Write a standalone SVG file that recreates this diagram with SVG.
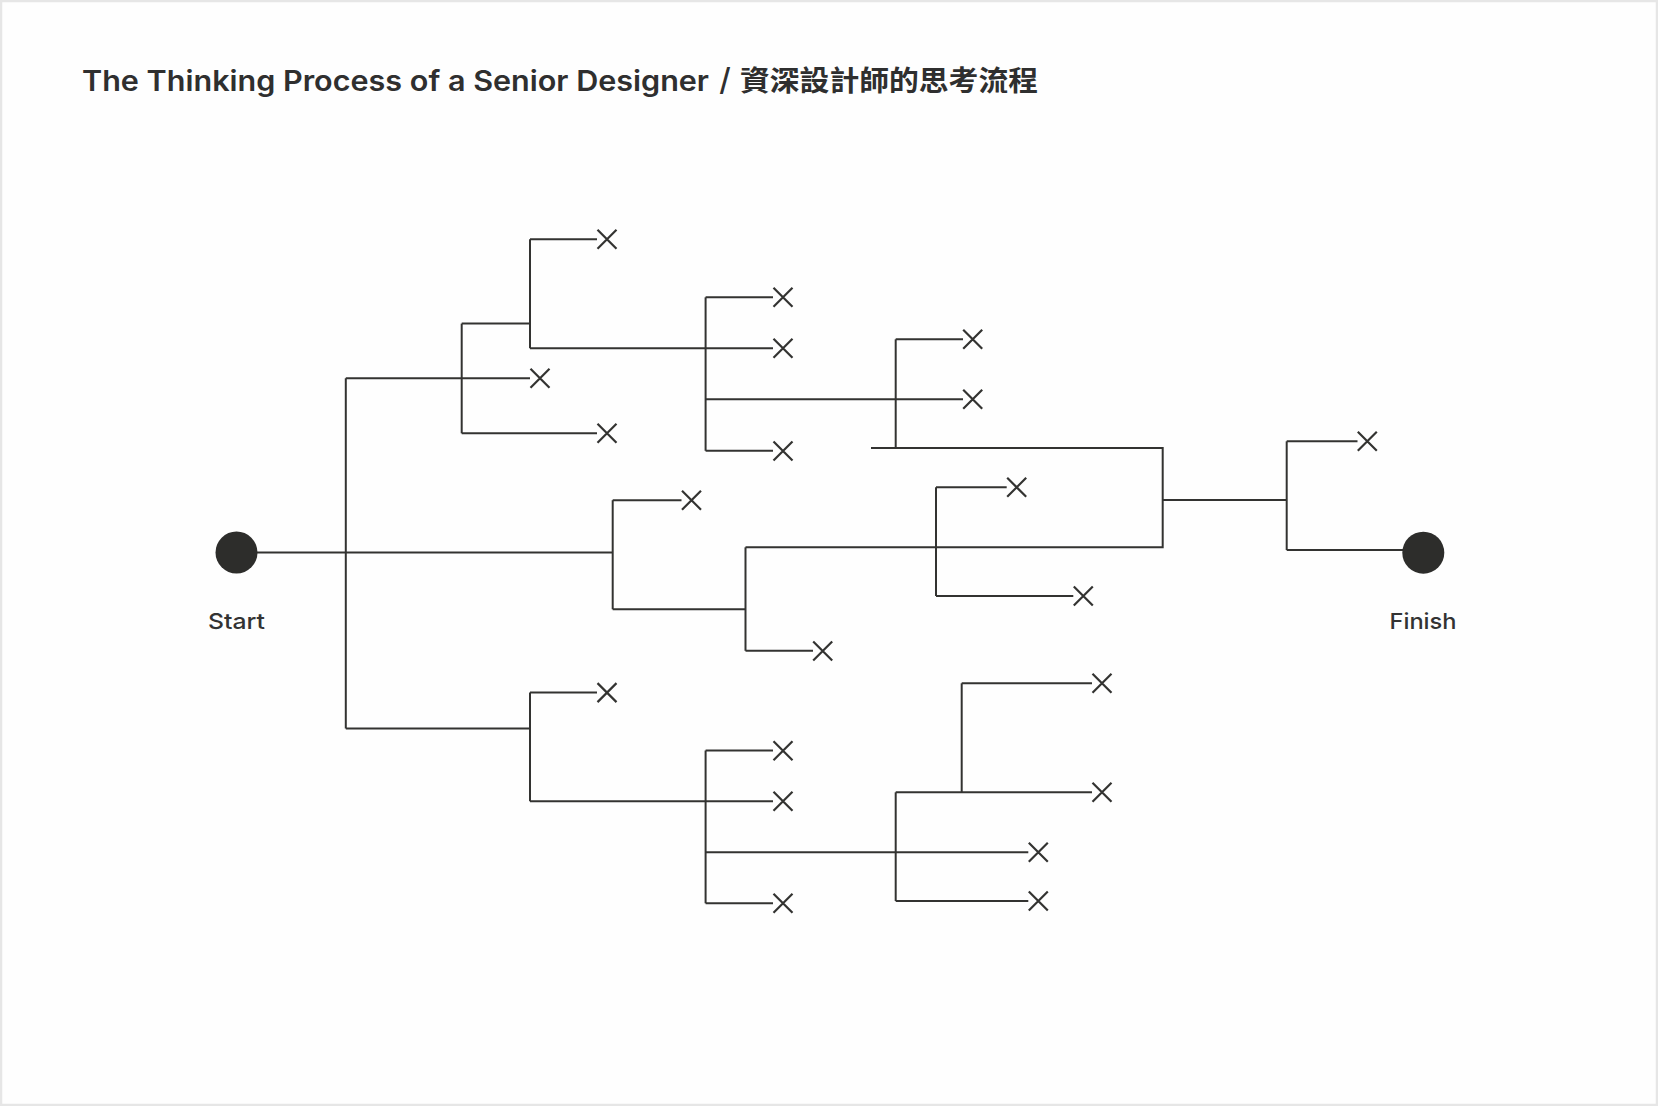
<svg xmlns="http://www.w3.org/2000/svg" xmlns:xlink="http://www.w3.org/1999/xlink" width="1658" height="1106" viewBox="0 0 1658 1106">
<style>
.ln{stroke:#333331;stroke-width:2;fill:none;stroke-linecap:butt}
.xm{stroke:#333331;stroke-width:2.2;fill:none}
.dot{fill:#2d2d2b}
.title{font-family:"Inter","Noto Sans CJK TC",sans-serif;font-weight:600;font-size:28px;fill:#2f2f2f}
.lbl{font-family:"Inter","Noto Sans",sans-serif;font-weight:500;font-size:22px;fill:#333333}
</style>
<defs>
<g id="xmark"><path class="xm" d="M-9.5,-9.5 L9.5,9.5 M-9.5,9.5 L9.5,-9.5"/></g>
</defs>
<rect x="1" y="1" width="1656" height="1104" fill="#fefefe" stroke="#e6e6e6" stroke-width="2.5"/>
<text class="title" y="90.5"><tspan x="82" textLength="627" lengthAdjust="spacingAndGlyphs">The Thinking Process of a Senior Designer</tspan><tspan x="711" font-size="31" font-weight="500"> / </tspan><tspan x="740" textLength="298" lengthAdjust="spacingAndGlyphs">資深設計師的思考流程</tspan></text>
<g id="connectors">
<path class="ln" d="M236.5,552.5 H612.7"/>
<path class="ln" d="M345.8,378.3 V728.5"/>
<path class="ln" d="M345.8,378.3 H530"/>
<path class="ln" d="M461.7,323.6 V433.3"/>
<path class="ln" d="M461.7,323.6 H530"/>
<path class="ln" d="M461.7,433.3 H597"/>
<path class="ln" d="M530,239.3 V348.3"/>
<path class="ln" d="M530,239.3 H597"/>
<path class="ln" d="M530,348.3 H773"/>
<path class="ln" d="M705.6,297.3 V450.8"/>
<path class="ln" d="M705.6,297.3 H773"/>
<path class="ln" d="M705.6,450.8 H773"/>
<path class="ln" d="M705.6,399.3 H963"/>
<path class="ln" d="M895.7,339.3 V448"/>
<path class="ln" d="M895.7,339.3 H963"/>
<path class="ln" d="M871,448 H1162.7 V547.3 H745.5"/>
<path class="ln" d="M1162.7,500 H1286.7"/>
<path class="ln" d="M1286.7,441.3 V550"/>
<path class="ln" d="M1286.7,441.3 H1357.5"/>
<path class="ln" d="M1286.7,550 H1420"/>
<path class="ln" d="M612.7,500.2 V609.3"/>
<path class="ln" d="M612.7,500.2 H681.5"/>
<path class="ln" d="M612.7,609.3 H745.5"/>
<path class="ln" d="M745.5,547.3 V650.8"/>
<path class="ln" d="M745.5,650.8 H813"/>
<path class="ln" d="M936,487.3 V596"/>
<path class="ln" d="M936,487.3 H1006.7"/>
<path class="ln" d="M936,596 H1073.3"/>
<path class="ln" d="M345.8,728.5 H530"/>
<path class="ln" d="M530,692.6 V801.3"/>
<path class="ln" d="M530,692.6 H597"/>
<path class="ln" d="M530,801.3 H773"/>
<path class="ln" d="M705.6,750.5 V903.3"/>
<path class="ln" d="M705.6,750.5 H773"/>
<path class="ln" d="M705.6,852.3 H1028.3"/>
<path class="ln" d="M705.6,903.3 H773"/>
<path class="ln" d="M895.7,792.3 V901"/>
<path class="ln" d="M895.7,792.3 H1092"/>
<path class="ln" d="M895.7,901 H1028.3"/>
<path class="ln" d="M961.7,683.3 V792.3"/>
<path class="ln" d="M961.7,683.3 H1092"/>
</g>
<g id="start"><circle class="dot" cx="236.5" cy="552.5" r="21"/><text class="lbl" x="236.5" y="628.5" text-anchor="middle" textLength="57" lengthAdjust="spacingAndGlyphs">Start</text></g>
<g id="finish"><circle class="dot" cx="1423.3" cy="552.7" r="21"/><text class="lbl" x="1423" y="628.5" text-anchor="middle" textLength="67" lengthAdjust="spacingAndGlyphs">Finish</text></g>
<g id="x1" transform="translate(607,239.3)"><use xlink:href="#xmark"/></g>
<g id="x2" transform="translate(783,297.3)"><use xlink:href="#xmark"/></g>
<g id="x3" transform="translate(783,348.3)"><use xlink:href="#xmark"/></g>
<g id="x4" transform="translate(972.7,339.3)"><use xlink:href="#xmark"/></g>
<g id="x5" transform="translate(540,378.3)"><use xlink:href="#xmark"/></g>
<g id="x6" transform="translate(972.7,399.3)"><use xlink:href="#xmark"/></g>
<g id="x7" transform="translate(607,433.3)"><use xlink:href="#xmark"/></g>
<g id="x8" transform="translate(783,451)"><use xlink:href="#xmark"/></g>
<g id="x9" transform="translate(1367.3,441.3)"><use xlink:href="#xmark"/></g>
<g id="x10" transform="translate(1016.7,487.3)"><use xlink:href="#xmark"/></g>
<g id="x11" transform="translate(691.5,500.2)"><use xlink:href="#xmark"/></g>
<g id="x12" transform="translate(1083.3,596)"><use xlink:href="#xmark"/></g>
<g id="x13" transform="translate(822.7,651)"><use xlink:href="#xmark"/></g>
<g id="x14" transform="translate(1102,683.3)"><use xlink:href="#xmark"/></g>
<g id="x15" transform="translate(607,692.6)"><use xlink:href="#xmark"/></g>
<g id="x16" transform="translate(783,750.8)"><use xlink:href="#xmark"/></g>
<g id="x17" transform="translate(1102,792.3)"><use xlink:href="#xmark"/></g>
<g id="x18" transform="translate(783,801.3)"><use xlink:href="#xmark"/></g>
<g id="x19" transform="translate(1038.3,852.3)"><use xlink:href="#xmark"/></g>
<g id="x20" transform="translate(1038.3,901)"><use xlink:href="#xmark"/></g>
<g id="x21" transform="translate(783,903.3)"><use xlink:href="#xmark"/></g>
</svg>
